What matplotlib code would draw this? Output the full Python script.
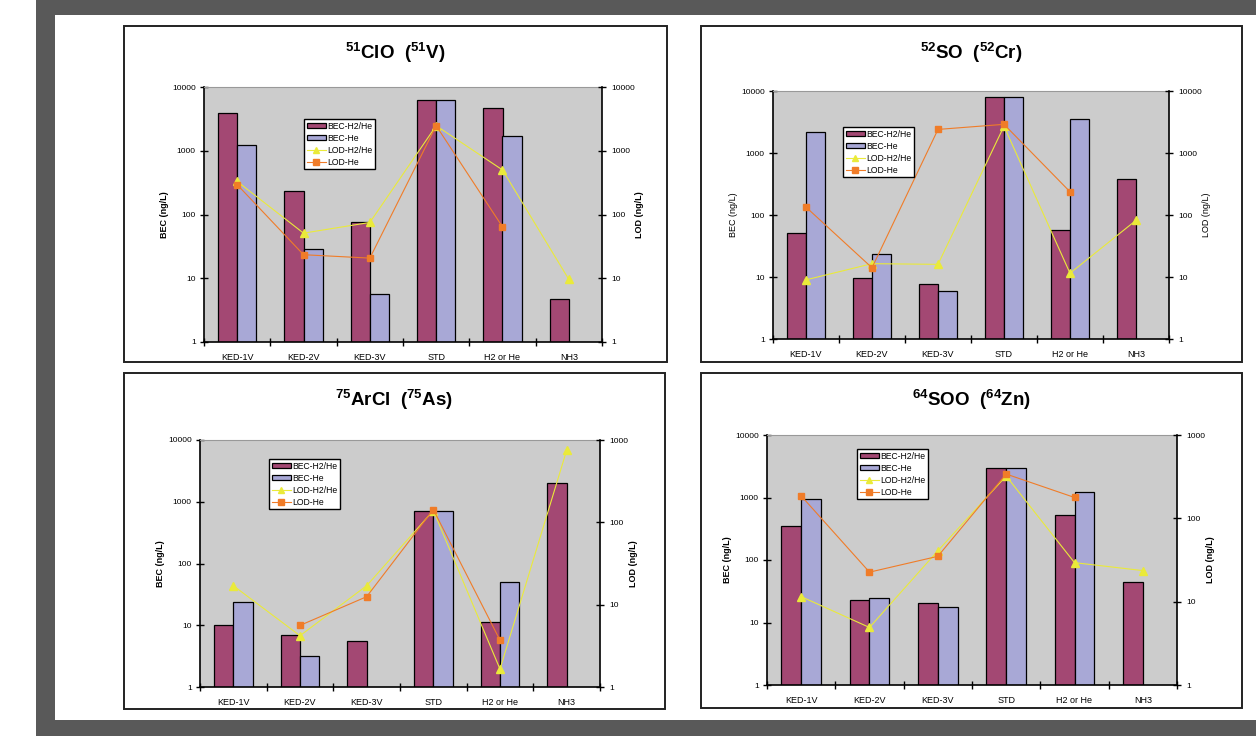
import numpy as np
import matplotlib
matplotlib.use("Agg")
import matplotlib.pyplot as plt
from matplotlib.patches import Rectangle, Patch
from matplotlib.lines import Line2D
from matplotlib.ticker import NullLocator

plt.rcParams['font.family'] = ['Liberation Sans', 'DejaVu Sans']
plt.rcParams['mathtext.fontset'] = 'custom'
plt.rcParams['mathtext.rm'] = 'Liberation Sans:bold'
plt.rcParams['mathtext.bf'] = 'Liberation Sans:bold'
plt.rcParams['mathtext.default'] = 'bf'

categories = ['KED-1V', 'KED-2V', 'KED-3V', 'STD', 'H2 or He', 'NH3']
nan = np.nan

# 51ClO (51V)
clo_bec_h2he = [3900, 234, 75, 6170, 4620, 4.75]
clo_bec_he = [1210, 29, 5.7, 6170, 1680, nan]
clo_lod_h2he = [330, 51, 75, 2470, 500, 9.6]
clo_lod_he = [294, 23.4, 20.7, 2470, 64, nan]

# 52SO (52Cr)
so_bec_h2he = [51, 9.6, 7.7, 8100, 57, 383]
so_bec_he = [2170, 23.7, 5.9, 8100, 3550, nan]
so_lod_h2he = [9.0, 16.4, 16.0, 2710, 11.5, 82]
so_lod_he = [134, 14.1, 2400, 2900, 237, nan]

# 75ArCl (75As)
arcl_bec_h2he = [10.2, 7.0, 5.5, 720, 11.5, 2040]
arcl_bec_he = [23.4, 3.2, nan, 720, 50, nan]
arcl_lod_h2he = [17, 4.2, 17, 139, 1.65, 750]
arcl_lod_he = [nan, 5.6, 12.5, 143, 3.7, nan]

# 64SOO (64Zn)
soo_bec_h2he = [355, 22.6, 20.3, 3000, 530, 43.7]
soo_bec_he = [930, 24.9, 17.9, 3000, 1230, nan]
soo_lod_h2he = [11.5, 4.9, 40.8, 322, 29.4, 23.6]
soo_lod_he = [186, 22.6, 35, 340, 178, nan]

W, H = 1256, 736
fig = plt.figure(figsize=(W / 100, H / 100), dpi=100)
fig.patch.set_facecolor('white')


def px_rect(x0, y0, x1, y1):
    return [x0 / W, 1 - y1 / H, (x1 - x0) / W, (y1 - y0) / H]


# dark frame around the page
fig.patches.append(Rectangle((36 / W, 0), 1 - 36 / W, 1, transform=fig.transFigure,
                             facecolor='#595959', edgecolor='none', zorder=-3))
fig.patches.append(Rectangle((55 / W, 16 / H), 1 - 55 / W, 1 - 31 / H, transform=fig.transFigure,
                             facecolor='white', edgecolor='none', zorder=-2))

c_h2he = '#A34873'
c_he = '#A8A8D6'
c_yel = '#EAEA3A'
c_org = '#F07C28'
c_plot = '#CCCCCC'


def panel(box, area, title, bec1, bec2, lod1, lod2, lod_max, legend_box, bold_labels=True):
    bx = px_rect(*box)
    fig.patches.append(Rectangle((bx[0], bx[1]), bx[2], bx[3], transform=fig.transFigure,
                                 facecolor='white', edgecolor='#222222', lw=1.4, zorder=-1))
    fig.text((box[0] + box[2]) / 2 / W, 1 - (box[1] + 27) / H, title, ha='center', va='center',
             fontsize=13.5, fontweight='bold')

    ax = fig.add_axes(px_rect(*area))
    ax.set_facecolor(c_plot)
    x = np.arange(len(categories)) + 0.5
    bw = 0.29
    ax.set_yscale('log')
    ax.bar(x - bw / 2, bec1, width=bw, color=c_h2he, edgecolor='black', lw=0.9, zorder=2)
    ax.bar(x + bw / 2, bec2, width=bw, color=c_he, edgecolor='black', lw=0.9, zorder=2)
    ax.set_ylim(1, 10000)
    ax.set_xlim(0, len(categories))
    ax.set_yticks([1, 10, 100, 1000, 10000])
    ax.set_yticklabels(['1', '10', '100', '1000', '10000'])
    ax.yaxis.set_minor_locator(NullLocator())
    # category names at the centres, tick marks on the boundaries
    ax.set_xticks(x)
    ax.set_xticklabels(categories)
    ax.set_xticks(np.arange(len(categories) + 1), minor=True)
    ax.tick_params(axis='x', which='major', length=0, labelsize=6.5, pad=8)
    ax.tick_params(axis='x', which='minor', direction='inout', length=6, width=1)
    ax.tick_params(axis='y', which='major', direction='inout', length=6, width=1, labelsize=6, pad=3)
    for s in ['left', 'bottom']:
        ax.spines[s].set_linewidth(1.2)
    ax.spines['top'].set_color('#999999')
    ax.spines['right'].set_visible(False)
    fw = 'bold' if bold_labels else 'normal'
    ax.set_ylabel('BEC (ng/L)', fontsize=6.5, fontweight=fw, labelpad=2)

    ax2 = ax.twinx()
    ax2.set_yscale('log')
    ax2.plot(x, lod1, color=c_yel, lw=0.8, marker='^', ms=5.5, mec=c_yel, mfc=c_yel, zorder=3)
    ax2.plot(x, lod2, color=c_org, lw=0.8, marker='s', ms=5, mec=c_org, mfc=c_org, zorder=3)
    ax2.set_ylim(1, lod_max)
    ticks = [10 ** k for k in range(int(round(np.log10(lod_max))) + 1)]
    ax2.set_yticks(ticks)
    ax2.set_yticklabels([str(t) for t in ticks])
    ax2.yaxis.set_minor_locator(NullLocator())
    ax2.tick_params(axis='y', which='major', direction='inout', length=6, width=1, labelsize=6, pad=4)
    ax2.spines['right'].set_linewidth(1.2)
    ax2.spines['top'].set_visible(False)
    ax2.spines['left'].set_visible(False)
    ax2.spines['bottom'].set_visible(False)
    ax2.set_ylabel('LOD (ng/L)', fontsize=6.5, fontweight=fw, labelpad=0)
    ax2.yaxis.label.set_rotation(90)

    handles = [Patch(facecolor=c_h2he, edgecolor='black', lw=0.9),
               Patch(facecolor=c_he, edgecolor='black', lw=0.9),
               Line2D([], [], color=c_yel, lw=0.8, marker='^', ms=5, mec=c_yel, mfc=c_yel),
               Line2D([], [], color=c_org, lw=0.8, marker='s', ms=4.5, mec=c_org, mfc=c_org)]
    labels = ['BEC-H2/He', 'BEC-He', 'LOD-H2/He', 'LOD-He']
    lb = px_rect(*legend_box)
    leg = ax2.legend(handles, labels, loc='upper left', bbox_to_anchor=(lb[0], lb[1] + lb[3]),
                     bbox_transform=fig.transFigure, fontsize=6.2, frameon=True, fancybox=False,
                     framealpha=1, borderpad=0.3, labelspacing=0.35, handlelength=2.2,
                     handleheight=0.6, handletextpad=0.2, borderaxespad=0)
    leg.get_frame().set_edgecolor('black')
    leg.get_frame().set_linewidth(1.0)
    return ax, ax2


panel((124, 26, 667, 362), (204, 87, 602, 342), r'$^{51}$ClO  ($^{51}$V)',
      clo_bec_h2he, clo_bec_he, clo_lod_h2he, clo_lod_he, 10000, (304, 119, 372, 167))
panel((701, 26, 1242, 362), (773, 91, 1169, 339), r'$^{52}$SO  ($^{52}$Cr)',
      so_bec_h2he, so_bec_he, so_lod_h2he, so_lod_he, 10000, (843, 127, 912, 177), bold_labels=False)
panel((124, 373, 665, 709), (200, 440, 600, 687), r'$^{75}$ArCl  ($^{75}$As)',
      arcl_bec_h2he, arcl_bec_he, arcl_lod_h2he, arcl_lod_he, 1000, (269, 459, 341, 507))
panel((701, 373, 1242, 708), (767, 435, 1177, 685), r'$^{64}$SOO  ($^{64}$Zn)',
      soo_bec_h2he, soo_bec_he, soo_lod_h2he, soo_lod_he, 1000, (857, 449, 925, 496))

fig.savefig('out.png', dpi=100)
